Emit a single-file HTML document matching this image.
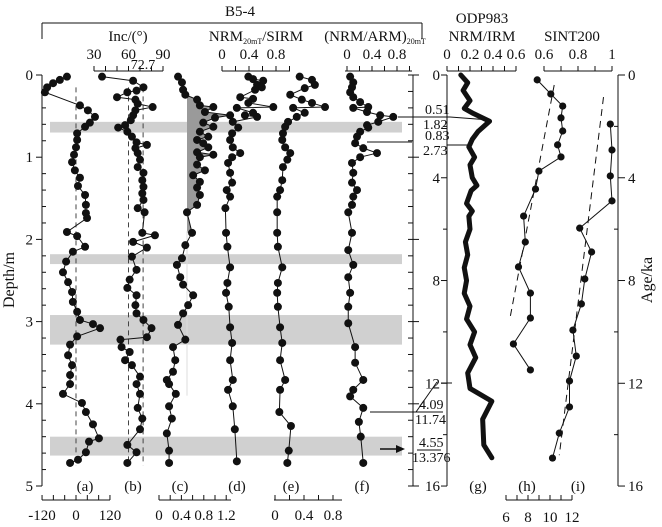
<!DOCTYPE html>
<html><head><meta charset="utf-8">
<style>
html,body{margin:0;padding:0;background:#fff;}
svg{display:block;}
svg text{font-family:"Liberation Serif","Times New Roman",serif;fill:#111;}
</style></head>
<body>
<svg id="fig" width="662" height="527" viewBox="0 0 662 527" xmlns="http://www.w3.org/2000/svg" font-family="Liberation Serif, serif">
<g id="bands"></g>
<g id="static" stroke="#111" fill="none" stroke-width="1"></g>
<g id="marks"></g>
</svg>
<script>
// ---------- B5-4 core data (depth in m) ----------
const decDepth=[.02,.06,.10,.15,.21,.37,.43,.51,.58,.63,.71,.79,.88,.97,1.06,1.16,1.25,1.35,1.46,1.58,1.68,1.74,1.91,1.96,2.09,2.15,2.27,2.40,2.52,2.64,2.76,2.88,2.98,3.03,3.08,3.18,3.28,3.41,3.53,3.65,3.76,3.88,3.99,4.10,4.25,4.42,4.46,4.59,4.68,4.72];
const decVal=[-32,-57,-81,-102,-110,14,42,67,49,32,4,4,0,-7,-14,-4,14,7,32,35,35,39,-32,4,32,-11,-35,-46,-28,-14,-11,4,14,60,85,4,-21,-28,-14,-21,-21,-46,21,35,60,81,46,35,7,-21];
const incDepth=[.02,.07,.15,.19,.21,.27,.30,.35,.39,.43,.49,.55,.61,.64,.69,.75,.82,.85,.89,.95,1.03,1.12,1.19,1.28,1.36,1.44,1.52,1.62,1.67,1.92,1.95,2.03,2.10,2.21,2.37,2.49,2.59,2.68,2.80,2.90,2.98,3.08,3.19,3.22,3.31,3.37,3.47,3.53,3.67,3.76,3.88,4.05,4.18,4.31,4.50,4.59,4.72];
const incVal=[37,64,73,67,59,50,66,68,81,66,64,62,57,51,59,63,67,76,66,68,70,68,73,72,73,72,73,68,74,72,83,64,76,63,67,61,59,67,66,67,73,80,76,53,54,61,57,63,70,67,70,68,72,70,59,67,59];
const thDepth=[.02,.09,.18,.24,.30,.37,.39,.45,.49,.52,.58,.63,.69,.75,.79,.83,.88,.94,.97,1.0,1.09,1.16,1.22,1.30,1.37,1.46,1.58,1.67,1.92,2.07,2.23,2.31,2.46,2.55,2.68,2.80,2.90,3.04,3.22,3.31,3.47,3.61,3.71,3.76,3.88,4.03,4.18,4.36,4.57,4.72];
const thVal=[.34,.41,.43,.47,.68,.73,.97,.82,1.27,1.0,.79,.97,.73,.88,.68,.79,.88,.68,.97,.73,.68,.82,.61,.73,.68,.73,.68,.5,.59,.47,.41,.32,.38,.43,.61,.52,.43,.34,.47,.25,.29,.25,.14,.18,.30,.18,.23,.14,.18,.18];
const sirmDepth=[.02,.05,.07,.12,.15,.18,.27,.29,.34,.39,.40,.46,.49,.51,.57,.64,.71,.79,.88,.95,1.0,1.07,1.19,1.31,1.40,1.48,1.62,1.92,2.09,2.34,2.53,2.65,2.82,3.07,3.26,3.47,3.71,3.83,4.03,4.31,4.70];
const sirmVal=[.39,.46,.61,.52,.59,.49,.27,.46,.39,.76,.22,.46,.34,.52,.16,.24,.15,.12,.16,.27,.15,.09,.12,.15,.07,.12,.05,.06,.08,.12,.08,.06,.1,.12,.15,.12,.16,.09,.16,.19,.22];
const kapDepth=[.02,.06,.12,.16,.24,.30,.34,.39,.40,.46,.51,.57,.63,.71,.79,.88,.95,1.03,1.12,1.28,1.40,1.48,1.67,1.92,2.09,2.34,2.53,2.65,2.82,3.07,3.26,3.47,3.71,3.83,4.10,4.27,4.57,4.72];
const kapVal=[.34,.51,.55,.41,.21,.37,.51,.69,.25,.41,.30,.18,.14,.11,.10,.14,.21,.17,.11,.10,.07,.03,.03,.03,.04,.10,.04,.03,.04,.07,.10,.07,.14,.07,.06,.22,.19,.17];
const armDepth=[.02,.09,.15,.21,.27,.33,.39,.40,.45,.49,.51,.57,.61,.64,.69,.75,.83,.89,.95,1.0,1.07,1.19,1.31,1.40,1.48,1.58,1.67,1.92,2.13,2.31,2.46,2.65,2.82,3.02,3.31,3.50,3.71,3.83,3.91,4.05,4.22,4.40,4.72];
const armVal=[.05,.10,.08,.05,.10,.21,.34,.10,.32,.53,.74,.50,.32,.34,.21,.16,.13,.26,.48,.21,.08,.10,.08,.16,.10,.08,.02,.08,.02,.10,.02,.05,.02,.02,.13,.13,.26,.10,.05,.26,.19,.22,.26];
// ---------- ODP983 / SINT200 (age in ka) ----------
const odpAge=[0,0.3,0.6,1,1.3,1.5,1.8,2.2,2.5,2.8,3.2,3.5,4,4.3,4.5,5,5.3,5.5,6,6.5,7,7.5,8,8.5,9,9.5,10,10.5,11,11.6,12.2,12.7,13.4,14.4,14.9];
const odpVal=[.12,.18,.14,.20,.15,.23,.37,.27,.22,.19,.24,.20,.22,.26,.21,.17,.22,.19,.20,.16,.18,.15,.17,.15,.20,.17,.24,.20,.25,.18,.20,.39,.31,.32,.39];
const hAge=[.19,.74,1.21,1.67,2.18,2.72,3.19,3.74,4.44,5.49,6.5,7.47,8.49,9.46,10.47,11.48];
const hVal=[.56,.64,.71,.70,.71,.68,.70,.57,.55,.48,.49,.45,.52,.52,.42,.52];
const hTrendAge=[.39,9.46];
const hTrendVal=[.66,.40];
const iAge=[1.91,2.92,3.93,4.9,5.96,6.89,7.94,8.91,9.93,10.94,11.91,12.92,13.94,14.91];
const iVal=[.99,1.0,.99,1.0,.81,.88,.84,.82,.77,.79,.75,.75,.69,.65];
const iTrendAge=[.86,14.8];
const iTrendVal=[.95,.69];
// tick labels
const depthTicks=[0,1,2,3,4,5];
const ageTicks=[0,4,8,12,16];
const decTicks=[-120,0,120];
const incTicks=[30,60,90];
const thTicks=[0,0.4,0.8,1.2];
const ratioTicks=[0,0.4,0.8];
const odpTicks=[0,0.2,0.4,0.6];
const sintTicks=[0.6,0.8,1];
const vadmTicks=[6,8,10,12];
const bandRanges=[[0.57,0.70],[2.18,2.30],[2.92,3.28],[4.40,4.63]];

const NS="http://www.w3.org/2000/svg";
const FONT='"Liberation Serif","Times New Roman",serif';
const yD=d=>75+d*82.2;
const yA=a=>75+a*25.69;
const xDec=v=>76+v*0.283;
const xInc=v=>94+(v-30)*1.15;
const xTh=v=>159+v*56;
const xSirm=v=>222+v*67.5;
const xKap=v=>275+v*72.5;
const xArm=v=>347+v*62.5;
const xOdp=v=>447+v*115;
const xSint=v=>544+(v-0.6)*170;
const xVadm=v=>506+(v-6)*11;

function mk(tag,attrs,parent){const e=document.createElementNS(NS,tag);for(const k in attrs)e.setAttribute(k,attrs[k]);parent.appendChild(e);return e;}
const S=document.getElementById('static');
const M=document.getElementById('marks');
const B=document.getElementById('bands');

bandRanges.forEach(r=>{
  const el=mk('rect',{x:50,y:yD(r[0]),width:352,height:yD(r[1])-yD(r[0]),fill:'#d0d0d0'},B);
  
  
});

function line(x1,y1,x2,y2,extra){const l=mk('line',Object.assign({x1,y1,x2,y2},extra||{}),S);return l;}
function txt(x,y,s,anchor,size,parent,name){const t=mk('text',{x,y,'text-anchor':anchor||'middle','font-size':size||13,stroke:'none',fill:'#111','font-family':FONT},parent||S);t.textContent=s;
  
  
  return t;}

(function(){
  const pts=[];const x0=187;
  for(let i=0;i<thDepth.length;i++){if(thDepth[i]>=0.2&&thDepth[i]<=1.92)pts.push([Math.max(x0,xTh(thVal[i])),yD(thDepth[i])]);}
  let p=`${x0},${pts[0][1]} `+pts.map(p=>p.join(',')).join(' ')+` ${x0},${pts[pts.length-1][1]}`;
  const pg=mk('polygon',{points:p,fill:'#9a9a9a',stroke:'none'},M);
  
  
  const vl=mk('line',{x1:x0,y1:yD(1.9),x2:x0,y2:yD(3.9),stroke:'#ddd','stroke-width':1},M);
  
  
})();

[[xDec(0),'dec-zero-line'],[xInc(60),'inc-60-line'],[xInc(72.7),'inc-72.7-line']].forEach(a=>{
  const l=mk('line',{x1:a[0],y1:yD(0.15),x2:a[0],y2:yD(4.75),stroke:'#444','stroke-dasharray':'5,4','stroke-width':1},M);
  
  
});

function series(ys,xs,xf,yf,name,r){
  const g=mk('g',{},M);
  
  
  const pts=ys.map((y,i)=>[xf(xs[i]),yf(y)]);
  const pl=mk('polyline',{points:pts.map(p=>p.join(',')).join(' '),fill:'none',stroke:'#111','stroke-width':1},g);
  
  
  pts.forEach(p=>{
    const c=mk('circle',{cx:p[0],cy:p[1],r:r||4,fill:'#111'},g);
    
    
  });
}
series(decDepth,decVal,xDec,yD,'dec-series');
series(incDepth,incVal,xInc,yD,'inc-series');
series(thDepth,thVal,xTh,yD,'thellier-series');
series(sirmDepth,sirmVal,xSirm,yD,'nrm-sirm-series');
series(kapDepth,kapVal,xKap,yD,'nrm-kappa-series');
series(armDepth,armVal,xArm,yD,'nrm-arm-series');
series(hAge,hVal,xSint,yA,'sint200-h-series',3.6);
series(iAge,iVal,xSint,yA,'sint200-i-series',3.6);

(function(){
  const p=odpAge.map((a,i)=>xOdp(odpVal[i])+','+yA(a)).join(' ');
  const pl=mk('polyline',{points:p,fill:'none',stroke:'#111','stroke-width':5,'stroke-linejoin':'round','stroke-linecap':'round'},M);
  
  
})();
[[hTrendAge,hTrendVal,'sint200-h-trend'],[iTrendAge,iTrendVal,'sint200-i-trend']].forEach(t=>{
  const l=mk('line',{x1:xSint(t[1][0]),y1:yA(t[0][0]),x2:xSint(t[1][1]),y2:yA(t[0][1]),stroke:'#111','stroke-dasharray':'7,5','stroke-width':1},M);
  
  
});

// ---- axes ----
line(42,75,42,486);
for(let d=0;d<=5.001;d+=0.2){const y=yD(d);const maj=Math.abs(d-Math.round(d))<0.01;line(maj?36:42,y,maj?42:46,y);}
depthTicks.forEach(d=>txt(33,yD(d)+5,String(d),'end',15,S,'depth-tick-label'));
line(413,75,413,486);
for(let d=0;d<=5.001;d+=0.2){const y=yD(d);const maj=Math.abs(d-Math.round(d))<0.01;line(408,y,maj?419:413,y);}
line(447,75,447,486);
for(let a=0;a<=16.001;a+=2){const y=yA(a);line(a%4===0?441:443,y,447,y);}
ageTicks.forEach(a=>txt(440,yA(a)+5,String(a),'end',15,S,'odp-age-tick-label'));
line(618,75,618,486);
for(let a=0;a<=16.001;a+=2){const y=yA(a);line(a%4===0?618:614,y,a%4===0?625:618,y);}
ageTicks.forEach(a=>txt(628,yA(a)+5,String(a),'start',15,S,'age-tick-label'));

function topAxis(x1,x2,step,xf,v0,v1){line(x1,71,x2,71);for(let v=v0;v<=v1+1e-6;v+=step){const x=xf(v);line(x,71,x,66);}}
topAxis(94,163,10,xInc,30,90);
incTicks.forEach(v=>txt(xInc(v),59,String(v),'middle',15,S,'inc-tick-label'));
txt(143,69,'72.7','middle',14,S,'inc-reference-label');
txt(128,41,'Inc/(°)','middle',15,S,'inc-axis-title');
topAxis(222,290,0.2,xSirm,0,1);
ratioTicks.forEach(v=>txt(xSirm(v),59,String(v),'middle',15,S,'nrm-sirm-tick-label'));
(function(){const t=txt(256,41,'','middle',15,S,'nrm-sirm-axis-title');t.innerHTML='NRM<tspan font-size="8" dy="3">20mT</tspan><tspan dy="-3">/SIRM</tspan>';})();
topAxis(345,412,0.2,xArm,0,1);
ratioTicks.forEach(v=>txt(xArm(v),59,String(v),'middle',15,S,'nrm-arm-tick-label'));
(function(){const t=txt(375,41,'','middle',15,S,'nrm-arm-axis-title');t.innerHTML='(NRM/ARM)<tspan font-size="8" dy="3">20mT</tspan>';})();
topAxis(447,516,0.1,xOdp,0,0.6);
odpTicks.forEach(v=>txt(xOdp(v),59,String(v),'middle',15,S,'odp-tick-label'));
txt(482,23,'ODP983','middle',15,S,'odp-title');
txt(482,41,'NRM/IRM','middle',15,S,'odp-axis-title');
topAxis(544,612,0.1,xSint,0.6,1);
sintTicks.forEach(v=>txt(xSint(v),59,String(v),'middle',15,S,'sint-tick-label'));
txt(572,41,'SINT200','middle',15,S,'sint-axis-title');

line(42,23,422,23);line(42,23,42,39);line(422,23,422,39);
txt(240,16,'B5-4','middle',15,S,'core-title');

function botAxis(x1,x2,step,xf,v0,v1){line(x1,500,x2,500);for(let v=v0;v<=v1+1e-6;v+=step){const x=xf(v);line(x,500,x,495);}}
botAxis(42,110,40,xDec,-120,120);
decTicks.forEach(v=>txt(xDec(v),520,String(v),'middle',15,S,'dec-tick-label'));
txt(78,540,'Dec/(°)','middle',15,S,'dec-axis-title');
botAxis(159,231,0.2,xTh,0,1.2);
thTicks.forEach(v=>txt(xTh(v),520,String(v),'middle',15,S,'thellier-tick-label'));
txt(196,540,'Thellier result','middle',15,S,'thellier-axis-title');
botAxis(274,342,0.2,xKap,0,0.9);
ratioTicks.forEach(v=>txt(xKap(v),520,String(v),'middle',15,S,'nrm-kappa-tick-label'));
(function(){const t=txt(305,540,'','middle',15,S,'nrm-kappa-axis-title');t.innerHTML='NRM<tspan font-size="8" dy="3">20mT</tspan><tspan dy="-3">/κ</tspan>';})();
botAxis(506,572,1,xVadm,6,12);
vadmTicks.forEach(v=>txt(xVadm(v),522,String(v),'middle',15,S,'vadm-tick-label'));
(function(){const t=txt(540,546,'','middle',15,S,'vadm-axis-title');t.innerHTML='VADM/(10<tspan font-size="8" dy="-5">22</tspan><tspan dy="5">Am</tspan><tspan font-size="8" dy="-5">2</tspan><tspan dy="5">)</tspan>';})();

[['(a)',85],['(b)',133],['(c)',180],['(d)',237],['(e)',291],['(f)',362],['(g)',478],['(h)',527],['(i)',578]].forEach(p=>txt(p[1],491,p[0],'middle',15,S,'panel-letter'));

(function(){const t=txt(0,0,'Depth/m','middle',16,S,'depth-axis-title');t.setAttribute('transform','translate(14,280) rotate(-90)');
 const a=txt(0,0,'Age/ka','middle',16,S,'age-axis-title');a.setAttribute('transform','translate(652,280) rotate(-90)');})();

line(398,117,450,117);line(450,117,490,120);
txt(425,114,'0.51','start',14,S,'tie-depth-label');txt(423,129,'1.82','start',14,S,'tie-age-label');
line(367,142,412,142);line(447,145,470,145);
txt(425,140,'0.83','start',14,S,'tie-depth-label');txt(423,155,'2.73','start',14,S,'tie-age-label');
line(370,412,416,412);line(416,412,437,382);line(441,383,452,383);
txt(419,409,'4.09','start',14,S,'tie-depth-label');txt(415,424,'11.74','start',14,S,'tie-age-label');
txt(419,447,'4.55','start',14,S,'tie-depth-label');txt(412,462,'13.376','start',14,S,'tie-age-label');
line(414,412,443,412,{});line(417,450,441,450);
line(380,449,398,449,{'stroke-width':1.5});
(function(){const ar=mk('polygon',{points:'405,449 396,445 396,453',fill:'#111',stroke:'none'},S);
 
 })();
</script>
</body></html>
